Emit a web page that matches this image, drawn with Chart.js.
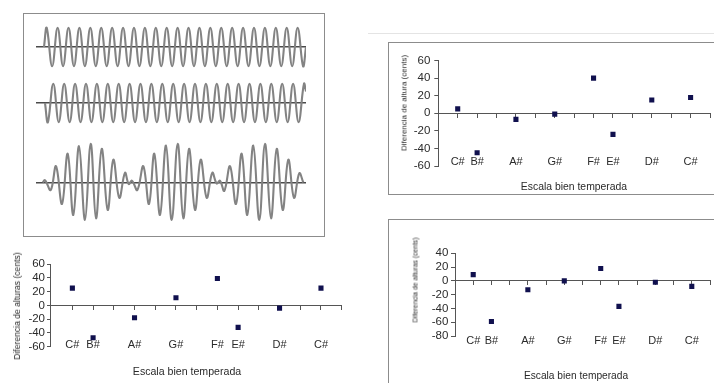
<!DOCTYPE html>
<html>
<head>
<meta charset="utf-8">
<script src="https://cdn.jsdelivr.net/npm/chart.js@4.4.1/dist/chart.umd.min.js"></script>
<style>
    body { margin: 0; width: 714px; height: 383px; overflow: hidden; position: relative; background: #fff;
           font-family: "Liberation Sans", Arial, sans-serif; color: #2a2a2a; }
    canvas, .box, .title, .ytitle { position: absolute; }
    .box { box-sizing: border-box; border: 1.5px solid #8c8c8c; }
    .title { transform: translate(-50%, -50%); white-space: nowrap; }
    .ytitle { transform: translate(-50%, -50%) rotate(-90deg); white-space: nowrap; }
</style>
</head>
<body>
<!-- waveform panel -->
<div class="box" style="left:23px; top:13px; width:302px; height:224px;"></div>
<canvas id="wave1" width="270" height="50" style="left:36px; top:22px;"></canvas>
<canvas id="wave2" width="270" height="50" style="left:36px; top:78px;"></canvas>
<canvas id="wave3" width="270" height="89" style="left:36px; top:138px;"></canvas>

<!-- bottom left chart -->
<canvas id="chartLeft" width="360" height="133" style="left:0; top:250px;"></canvas>
<div class="ytitle" style="left:17px; top:306px; font-size:8.6px;">Diferencia de alturas (cents)</div>
<div class="title" style="left:187px; top:371px; font-size:10.6px;">Escala bien temperada</div>

<!-- right panels -->
<div style="position:absolute; left:368px; top:33px; width:346px; height:1px; background:#e4e4e4;"></div>
<div class="box" style="left:388px; top:42px; width:400px; height:153px;"></div>
<canvas id="chartTopRight" width="324" height="149" style="left:390px; top:44px;"></canvas>
<div class="ytitle" style="left:404px; top:103px; font-size:8px;">Diferencia de altura (cents)</div>
<div class="title" style="left:574px; top:186px; font-size:10.4px;">Escala bien temperada</div>

<div class="box" style="left:388px; top:219px; width:400px; height:200px;"></div>
<canvas id="chartBottomRight" width="324" height="162" style="left:390px; top:221px;"></canvas>
<div class="ytitle" style="left:415px; top:280px; font-size:6.8px;">Diferencia de alturas (cents)</div>
<div class="title" style="left:576px; top:375px; font-size:10.2px;">Escala bien temperada</div>

<script>
// notes of the descending scale and their distance (semitones) from the top C#
const noteNames = ['C#', 'B#', 'A#', 'G#', 'F#', 'E#', 'D#', 'C#'];
const noteSteps = [0, 1, 3, 5, 7, 8, 10, 12];
const semitoneTicks = [0, 1, 2, 3, 4, 5, 6, 7, 8, 9, 10, 11, 12, 13];

// pitch difference in cents for each note
const centsLeft = [25, -47, -18, 11, 39, -32, -4, 25];
const centsTopRight = [5, -45, -7, -1, 40, -24, 15, 18];
const centsBottomRight = [9, -59, -13, 0, 18, -37, -2, -8];

const yTicks60 = [-60, -40, -20, 0, 20, 40, 60];
const yTicks80 = [-80, -60, -40, -20, 0, 20, 40];

// waveforms: successive peaks and troughs (relative amplitude)
const wave1Peaks = [1, -1, 1, -1, 1, -1, 1, -1, 1, -1, 1, -1, 1, -1, 1, -1, 1, -1, 1, -1, 1, -1, 1, -1,
                    1, -1, 1, -1, 1, -1, 1, -1, 1, -1, 1, -1, 1, -1, 1, -1, 1, -1, 1, -1, 1, -1, 1, -1];
const wave2Peaks = [-1, 1, -1, 1, -1, 1, -1, 1, -1, 1, -1, 1, -1, 1, -1, 1, -1, 1, -1, 1, -1, 1, -1, 1,
                    -1, 1, -1, 1, -1, 1, -1, 1, -1, 1, -1, 1, -1, 1, -1, 1, -1, 1, -1, 1, -1, 1, -1, 1];
const beatTimes = [6.7, 9, 14.7, 20, 26, 31.7, 37.3, 43, 49, 54.7, 60, 65.7, 71.7, 77.3, 83.3, 89, 92.7, 96,
                   101.3, 107.3, 113, 118.3, 124, 130, 135.7, 141.7, 147.3, 153, 159, 164.7, 170.7, 176.3,
                   180.7, 184, 188.3, 194, 200, 205.7, 211.3, 217.3, 223.3, 229, 235, 240.7, 246.7, 252.3,
                   258, 263.3, 267.3];
const beatPeaks = [0, 0.12, -0.39, 0.84, -1.11, 1.49, -1.68, 1.88, -1.93, 2.0, -1.85, 1.74, -1.42, 1.18, -0.79,
                   0.5, -0.08, 0.09, -0.39, 0.84, -1.11, 1.49, -1.68, 1.91, -1.93, 2.0, -1.85, 1.74, -1.42,
                   1.18, -0.79, 0.5, -0.05, 0.09, -0.43, 0.84, -1.11, 1.49, -1.68, 1.91, -1.93, 2.0, -1.85,
                   1.74, -1.42, 1.18, -0.79, 0.48, 0];

const fontFamily = '"Liberation Sans", Arial, sans-serif';
const xTickFont = { family: fontFamily, size: 11 };
const yTickFont = { family: fontFamily, size: 11.5 };
const axisColor = '#555';
const markColor = '#10104e';
const yAxisWidth = 40;

// peaks spaced evenly in time (half a period apart)
function evenPeaks(first, step, peaks, start, end) {
    const pts = [start];
    peaks.forEach((v, i) => pts.push({ x: first + i * step, y: v }));
    pts.push(end);
    return pts;
}

function waveChart(id, points, range) {
    new Chart(document.getElementById(id), {
        type: 'line',
        data: {
            datasets: [{
                data: points,
                borderColor: '#838383',
                borderWidth: 2.1,
                tension: 0.4,
                pointRadius: 0,
                clip: false
            }]
        },
        options: {
            responsive: false,
            animation: false,
            layout: { padding: 0 },
            plugins: { legend: { display: false }, tooltip: { enabled: false } },
            scales: {
                x: { type: 'linear', display: false, min: 0, max: 270 },
                y: {
                    min: -range,
                    max: range,
                    afterBuildTicks: (s) => { s.ticks = [{ value: 0 }]; },
                    ticks: { display: false },
                    border: { display: false },
                    grid: { color: '#4a4a4a', lineWidth: 1.5, drawTicks: false }
                }
            }
        }
    });
}

function centsChart(id, cents, yTicks, xMin, pad, labelPad, yTick) {
    const points = noteSteps.map((s, i) => ({ x: s, y: cents[i] }));
    const yMin = yTicks[0];
    new Chart(document.getElementById(id), {
        type: 'scatter',
        data: {
            datasets: [{
                data: points,
                pointStyle: 'rect',
                pointRadius: 3.6,
                backgroundColor: markColor,
                borderColor: markColor,
                borderWidth: 0
            }]
        },
        options: {
            responsive: false,
            animation: false,
            layout: { padding: pad },
            plugins: { legend: { display: false }, tooltip: { enabled: false } },
            scales: {
                // note names sit along the bottom edge of the plot
                x: {
                    type: 'linear',
                    axis: 'x',
                    position: { y: yMin },
                    min: xMin,
                    max: 13,
                    bounds: 'data',
                    afterBuildTicks: (s) => { s.ticks = noteSteps.map(v => ({ value: v })); },
                    ticks: {
                        autoSkip: false,
                        maxRotation: 0,
                        padding: labelPad,
                        color: '#2a2a2a',
                        font: xTickFont,
                        callback: (v, i) => noteNames[i]
                    },
                    grid: { display: false, drawTicks: false },
                    border: { display: false }
                },
                // zero line with a tick for every semitone
                x2: {
                    type: 'linear',
                    axis: 'x',
                    position: { y: 0 },
                    min: xMin,
                    max: 13,
                    bounds: 'data',
                    afterBuildTicks: (s) => { s.ticks = semitoneTicks.map(v => ({ value: v })); },
                    ticks: { display: false },
                    grid: { drawOnChartArea: false, drawTicks: true, tickLength: 4, color: axisColor },
                    border: { color: axisColor, width: 1 }
                },
                y: {
                    position: 'left',
                    min: yMin,
                    max: yTicks[yTicks.length - 1],
                    bounds: 'data',
                    afterBuildTicks: (s) => { s.ticks = yTicks.map(v => ({ value: v })); },
                    afterFit: (s) => { s.width = yAxisWidth; },
                    ticks: { autoSkip: false, padding: yTick.padding, color: '#2a2a2a', font: yTickFont },
                    grid: { drawOnChartArea: false, drawTicks: true, tickLength: yTick.length, color: axisColor },
                    border: { color: axisColor, width: 1 }
                }
            }
        }
    });
}

document.addEventListener("DOMContentLoaded", function () {
    // **1. Waveforms**
    waveChart('wave1', evenPeaks(10.7, 5.455, wave1Peaks, { x: 8, y: 0 }, { x: 270, y: 0 }), 1.3);
    waveChart('wave2', evenPeaks(11.85, 5.45, wave2Peaks, { x: 9, y: 0 }, { x: 270, y: 0.6 }), 1.3);
    waveChart('wave3', beatTimes.map((t, i) => ({ x: t, y: beatPeaks[i] })), 2.3);

    // **2. Cents charts** (padding.left = axis x - canvas x - yAxisWidth)
    centsChart('chartLeft', centsLeft, yTicks60, -1.08,
        { left: 50 - yAxisWidth, top: 14, right: 18.3, bottom: 36.3 }, -8.3, { length: 3, padding: 2 });
    centsChart('chartTopRight', centsTopRight, yTicks60, -1,
        { left: 48.3 - yAxisWidth, top: 16.5, right: 3.5, bottom: 27 }, -10.9, { length: 4, padding: 4 });
    centsChart('chartBottomRight', centsBottomRight, yTicks80, -1,
        { left: 65 - yAxisWidth, top: 32.3, right: 3.4, bottom: 47 }, -1.9, { length: 4, padding: 2.7 });
});
</script>
</body>
</html>
